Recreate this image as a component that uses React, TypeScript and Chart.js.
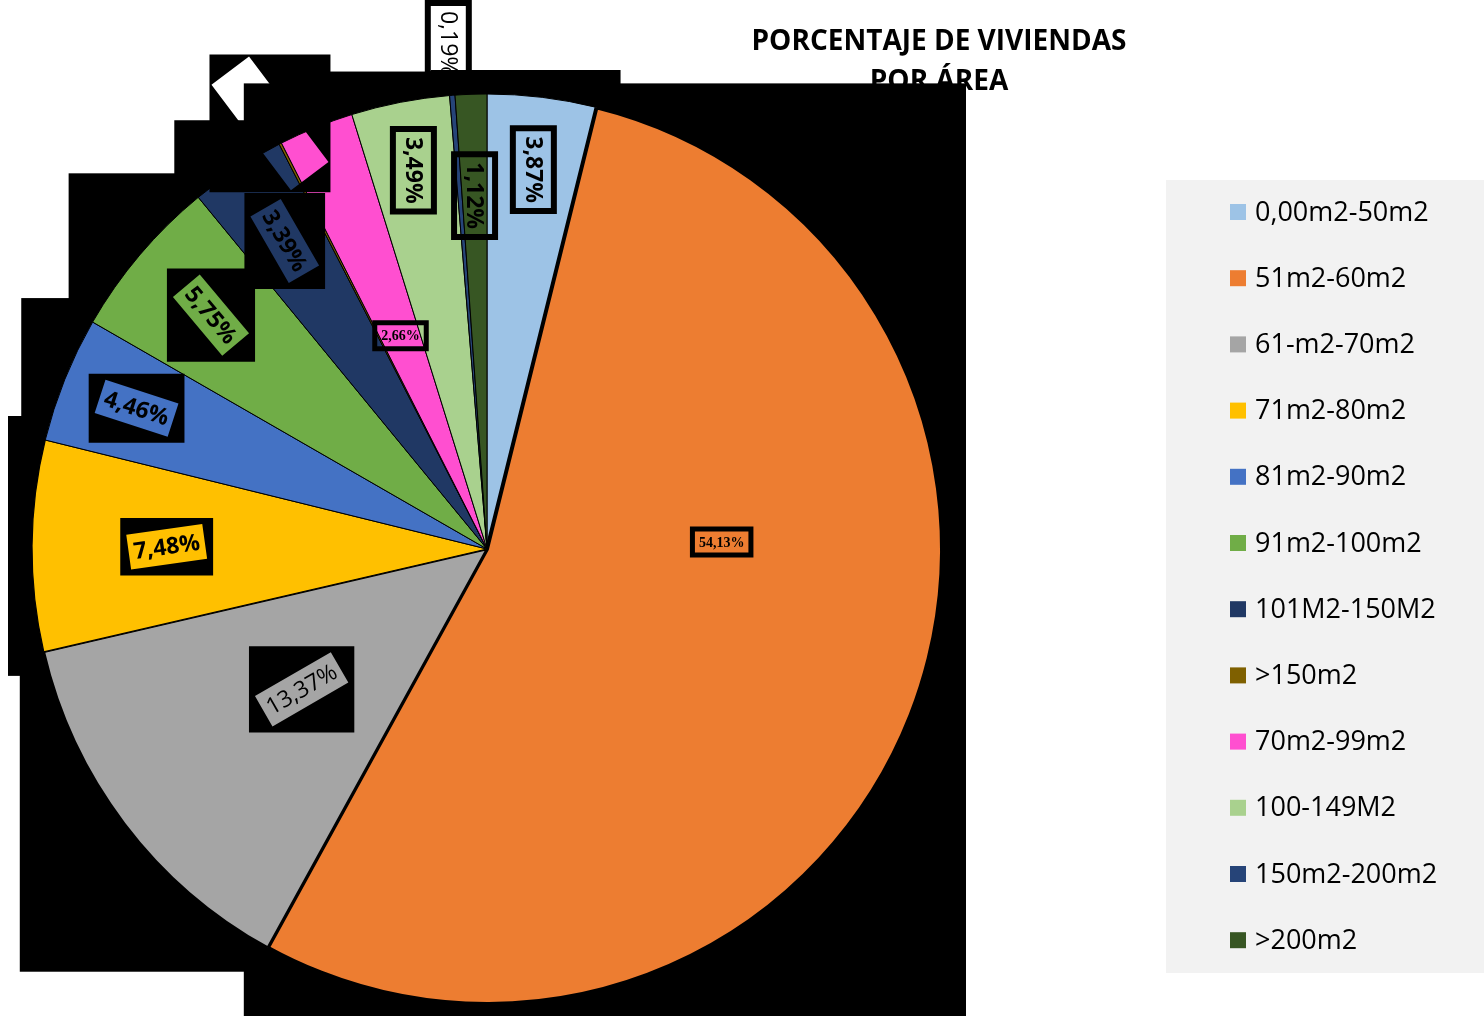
import React, { useEffect, useRef } from 'react';
import { Chart, registerables } from 'chart.js';

Chart.register(...registerables);

// ---------- data ----------
const categories = [
  '0,00m2-50m2',
  '51m2-60m2',
  '61-m2-70m2',
  '71m2-80m2',
  '81m2-90m2',
  '91m2-100m2',
  '101M2-150M2',
  '>150m2',
  '70m2-99m2',
  '100-149M2',
  '150m2-200m2',
  '>200m2',
];
const percentages = [3.87, 54.13, 13.37, 7.48, 4.46, 5.75, 3.39, 0.09, 2.66, 3.49, 0.19, 1.12];
const titleLines = ['PORCENTAJE DE VIVIENDAS', 'POR ÁREA'];

// ---------- styles ----------
const sliceColors = [
  '#9dc3e6', '#ed7d31', '#a5a5a5', '#ffc000', '#4472c4', '#70ad47',
  '#203864', '#7f6000', '#ff4fd0', '#a9d18e', '#264478', '#375623',
];
const sliceBorderWidths = [1, 4, 2.5, 1.2, 1, 1, 1, 1, 1, 1, 1, 1];
// label placement/style (degrees clockwise, radius as fraction of pie radius)
const labelRotation = [90, 0, -30, -8, 18, 50, 60, 53, 0, 90, 90, 90];
const labelRadius = [0.84, 0.516, 0.511, 0.704, 0.83, 0.795, 0.81, 1.05, 0.506, 0.848, 1.115, 0.777];
const labelAngle: (number | null)[] = [null, 88.3, null, null, null, null, null, null, null, null, null, null];
const labelKind = ['bold', 'serif', 'normal', 'bold', 'bold', 'bold', 'bold', 'hidden', 'serif', 'bold', 'normal', 'bold'];

const SANS = '"Open Sans", "Noto Sans", sans-serif';
const SERIF = '"Liberation Serif", "DejaVu Serif", serif';

const fmt = (v: number) => v.toFixed(2).replace('.', ',') + '%';

function arcBox(el: any) {
  const p = el.getProps(['x', 'y', 'startAngle', 'endAngle', 'outerRadius'], true);
  const xs = [p.x];
  const ys = [p.y];
  const angs = [p.startAngle, p.endAngle];
  for (let k = -4; k <= 8; k++) {
    const a = (k * Math.PI) / 2;
    if (a > p.startAngle && a < p.endAngle) angs.push(a);
  }
  for (const a of angs) {
    xs.push(p.x + p.outerRadius * Math.cos(a));
    ys.push(p.y + p.outerRadius * Math.sin(a));
  }
  return { l: Math.min(...xs), r: Math.max(...xs), t: Math.min(...ys), b: Math.max(...ys) };
}

const decorPlugin = {
  id: 'decor',
  beforeDraw(chart: any) {
    const ctx = chart.ctx;
    ctx.save();
    ctx.fillStyle = '#000';
    ctx.font = `bold 28px ${SANS}`;
    ctx.textAlign = 'center';
    ctx.textBaseline = 'middle';
    titleLines.forEach((t, i) => ctx.fillText(t, 939, 42 + i * 40));
    ctx.restore();
  },
  beforeDatasetsDraw(chart: any) {
    const ctx = chart.ctx;
    const meta = chart.getDatasetMeta(0);
    ctx.save();
    ctx.fillStyle = '#000';
    const pad = 24;
    meta.data.forEach((el: any) => {
      const b = arcBox(el);
      ctx.fillRect(b.l - pad, b.t - pad, b.r - b.l + pad * 2, b.b - b.t + pad * 2);
    });
    ctx.restore();
  },
  afterDatasetsDraw(chart: any) {
    const ctx = chart.ctx;
    const meta = chart.getDatasetMeta(0);
    const values = chart.data.datasets[0].data as number[];
    meta.data.forEach((el: any, i: number) => {
      const p = el.getProps(['x', 'y', 'startAngle', 'endAngle', 'outerRadius'], true);
      const kind = labelKind[i];
      const ang =
        labelAngle[i] != null
          ? ((labelAngle[i] as number) * Math.PI) / 180 - Math.PI / 2
          : (p.startAngle + p.endAngle) / 2;
      const r = p.outerRadius * labelRadius[i];
      const cx = p.x + r * Math.cos(ang);
      const cy = p.y + r * Math.sin(ang);
      const text = fmt(values[i]);
      let font = `bold 23px ${SANS}`;
      if (kind === 'normal') font = `23px ${SANS}`;
      if (kind === 'serif') font = `bold 14px ${SERIF}`;
      ctx.save();
      ctx.font = font;
      const tw = ctx.measureText(text).width;
      let w = tw + 10;
      let h = 35;
      let fpad = 6;
      if (kind === 'serif') {
        w = tw + 8;
        h = 21;
        fpad = 5;
      }
      if (kind === 'hidden') {
        w = 132;
        h = 47;
        fpad = 2;
      }
      const rot = (labelRotation[i] * Math.PI) / 180;
      const c = Math.cos(rot);
      const s = Math.sin(rot);
      const corners = [
        [-w / 2, -h / 2],
        [w / 2, -h / 2],
        [w / 2, h / 2],
        [-w / 2, h / 2],
      ].map(([dx, dy]) => [cx + dx * c - dy * s, cy + dx * s + dy * c]);
      const xs = corners.map((q) => q[0]);
      const ys = corners.map((q) => q[1]);
      const l = Math.min(...xs) - fpad;
      const t = Math.min(...ys) - fpad;
      const rr = Math.max(...xs) + fpad;
      const bb = Math.max(...ys) + fpad;
      ctx.beginPath();
      ctx.rect(l, t, rr - l, bb - t);
      ctx.moveTo(corners[0][0], corners[0][1]);
      for (let k = 1; k < 4; k++) ctx.lineTo(corners[k][0], corners[k][1]);
      ctx.closePath();
      ctx.fillStyle = '#000';
      ctx.fill('evenodd');
      if (kind !== 'hidden') {
        ctx.translate(cx, cy);
        ctx.rotate(rot);
        ctx.fillStyle = '#000';
        ctx.textAlign = 'center';
        ctx.textBaseline = 'middle';
        ctx.fillText(text, 0, 1);
      }
      ctx.restore();
    });
  },
  afterDraw(chart: any) {
    const ctx = chart.ctx;
    const labels = chart.data.labels as string[];
    const colors = chart.data.datasets[0].backgroundColor as string[];
    ctx.save();
    ctx.fillStyle = '#f2f2f2';
    ctx.fillRect(1166, 180, 318, 793);
    ctx.font = `27px ${SANS}`;
    ctx.textAlign = 'left';
    ctx.textBaseline = 'middle';
    labels.forEach((lab, i) => {
      const y = 212 + i * 66.2;
      ctx.fillStyle = colors[i];
      ctx.fillRect(1230, y - 8, 16, 16);
      ctx.fillStyle = '#000';
      ctx.fillText(lab, 1255, y + 1);
    });
    ctx.restore();
  },
};

export default function App() {
  const ref = useRef<HTMLCanvasElement | null>(null);
  useEffect(() => {
    document.body.style.margin = '0';
    if (!ref.current) return;
    const chart = new Chart(ref.current, {
      type: 'pie',
      data: {
        labels: categories,
        datasets: [
          {
            data: percentages,
            backgroundColor: sliceColors,
            borderColor: '#000',
            borderWidth: sliceBorderWidths,
            hoverOffset: 0,
          },
        ],
      },
      options: {
        responsive: false,
        animation: false,
        events: [],
        layout: { padding: { left: 30, top: 92, bottom: 10, right: 540 } },
        plugins: {
          legend: { display: false },
          title: { display: false },
          tooltip: { enabled: false },
        },
      },
      plugins: [decorPlugin],
    });
    return () => chart.destroy();
  }, []);
  return (
    <div style={{ width: 1484, height: 1016, position: 'relative' }}>
      <style>{'body{margin:0}'}</style>
      <canvas ref={ref} width={1484} height={1016} style={{ display: 'block' }} />
    </div>
  );
}
